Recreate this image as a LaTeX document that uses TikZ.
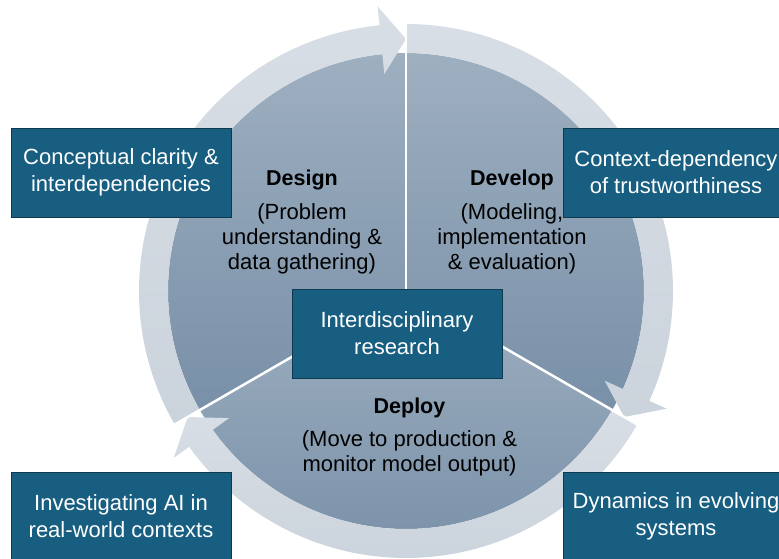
\documentclass[tikz,border=0pt]{standalone}
\usepackage{fontspec}
\setmainfont{Liberation Sans}
\usepackage{tikz}
\usetikzlibrary{
	calc,
	positioning,
	}
\definecolor{boxblue}{HTML}{175E80}
\definecolor{boxedge}{HTML}{0E3A4F}
\definecolor{ringtop}{HTML}{D8DEE5}
\definecolor{ringbot}{HTML}{CBD3DC}
\definecolor{disctop}{HTML}{9EAFC0}
\definecolor{discbot}{HTML}{7890A8}

\begin{document}
\begin{tikzpicture}[x=1pt, y=1pt,
		theme/.style={draw=boxedge, fill=boxblue, line width=0.8pt, text=white, align=center, minimum width=220pt, minimum height=89pt, font=\fontsize{22}{27}\selectfont},
		phase/.style={align=center, font=\fontsize{22}{25}\selectfont},
		title/.style={align=center, font=\fontsize{21.5}{25}\selectfont\bfseries},
		sector/.style={top color=disctop, bottom color=discbot},
		ring/.style={top color=ringtop, bottom color=ringbot},
		gap/.style={draw=white, line width=2.5pt}]
			\useasboundingbox (-406,-268) rectangle (373,291);
			% the three phases
			\shade[sector] (0,0) -- (90:238) arc[start angle=90, end angle=210, radius=238] -- cycle;
			\shade[sector] (0,0) -- (-30:238) arc[start angle=-30, end angle=90, radius=238] -- cycle;
			\shade[sector] (0,0) -- (210:238) arc[start angle=210, end angle=330, radius=238] -- cycle;
			% circular arrows
			\foreach \s/\e in {210/90, 90/-30, -30/-150} {
				\pgfmathsetmacro{\b}{\e+5.7}
				\shade[ring] (\s:238) arc[start angle=\s, end angle=\b, radius=238] -- (\b:218) -- (\e:252) -- (\b:286) -- (\b:267) arc[start angle=\b, end angle=\s, radius=267] -- cycle;
			}
			\draw[gap] (0,0) -- (90:272);
			\draw[gap] (0,0) -- (-30:272);
			\draw[gap] (0,0) -- (210:272);
			\node[title] (design) at (-104,111) {Design};
			\node[phase] (designtxt) at (-104,52) {(Problem\\understanding \&\\data gathering)};
			\node[title] (develop) at (106,111) {Develop};
			\node[phase] (developtxt) at (106,52) {(Modeling,\\implementation\\\& evaluation)};
			\node[title] (deploy) at (3.5,-117) {Deploy};
			\node[phase] (deploytxt) at (3.5,-162.5) {(Move to production \&\\monitor model output)};
			\node[theme, minimum width=210pt] (interdisc) at (-9,-42.5) {Interdisciplinary\\research};
			\node[theme] (clarity) at (-285,118.5) {Conceptual clarity \&\\interdependencies};
			\node[theme, minimum width=226pt] (context) at (270,118.5) {Context-dependency\\of trustworthiness};
			\node[theme] (realworld) at (-285,-225.5) {Investigating AI in\\real-world contexts};
			\node[theme, minimum width=226pt] (dynamics) at (270,-225.5) {Dynamics in evolving\\systems};
		\end{tikzpicture}
\end{document}
